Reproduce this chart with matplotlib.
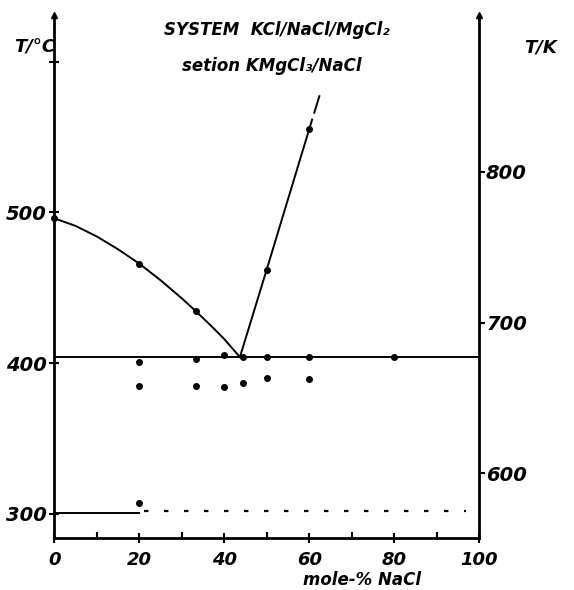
import matplotlib
matplotlib.use('Agg')
import matplotlib.pyplot as plt
from matplotlib.ticker import MultipleLocator

# ---- data ----
liq_left_c = [0, 5, 10, 15, 20, 25, 30, 33.3, 37, 40, 43.7]
liq_left_T = [496, 491, 484, 475.5, 466, 455, 443, 434.5, 424.5, 416, 404]
liq_left_pts_c = [0, 20, 33.3]
liq_left_pts_T = [496, 466, 434.5]

liq_right_c = [43.7, 50, 60, 60.7]
liq_right_T = [404, 462, 555, 561.5]
liq_right_pts_c = [50, 60]
liq_right_pts_T = [462, 555]
liq_right_dash_c = [61.2, 62.4]
liq_right_dash_T = [566, 577]

eut_c = [0, 100]
eut_T = [404, 404]
eut_pts_c = [20, 33.3, 40, 44.4, 50, 60, 80]
eut_pts_T = [401, 403, 405.5, 404, 404, 404, 404]

low_pts_c = [20, 33.3, 40, 44.4, 50, 60]
low_pts_T = [385, 385, 384.5, 386.5, 390, 389.5]

sol_c = [0, 20]
sol_T = [300.5, 300.5]
sol_dash_c = [21, 97]
sol_dash_T = [302, 302]
sol_pt_c = [20]
sol_pt_T = [307.5]

x_ticks = [0, 20, 40, 60, 80, 100]
y_ticks = [300, 400, 500, 600]
y_ticklabels = ['300', '400', '500', '']
k_ticks = [600, 700, 800]

FONT = dict(family='DejaVu Sans', style='italic', weight='bold')

fig = plt.figure(figsize=(5.74, 5.90), dpi=100)
ax = fig.add_axes([0.0946, 0.088, 0.74, 0.887])
ax.set_xlim(0, 100)
ax.set_ylim(284, 631)

lw = 1.4
ms = 4
k = 'black'
ax.plot(liq_left_c, liq_left_T, color=k, lw=lw)
ax.plot(liq_left_pts_c, liq_left_pts_T, 'o', color=k, ms=ms, clip_on=False)
ax.plot(liq_right_c, liq_right_T, color=k, lw=lw)
ax.plot(liq_right_pts_c, liq_right_pts_T, 'o', color=k, ms=ms)
ax.plot(liq_right_dash_c, liq_right_dash_T, color=k, lw=lw)
ax.plot(eut_c, eut_T, color=k, lw=lw)
ax.plot(eut_pts_c, eut_pts_T, 'o', color=k, ms=ms)
ax.plot(low_pts_c, low_pts_T, 'o', color=k, ms=ms)
ax.plot(sol_c, sol_T, color=k, lw=lw)
ax.plot(sol_dash_c, sol_dash_T, color=k, lw=1.6, linestyle=(0, (2, 7)))
ax.plot(sol_pt_c, sol_pt_T, 'o', color=k, ms=ms)

for s in ['top', 'right']:
    ax.spines[s].set_visible(False)
for s in ['left', 'bottom']:
    ax.spines[s].set_linewidth(2)

ax.set_xticks(x_ticks)
ax.set_xticklabels([str(v) for v in x_ticks], fontsize=13, **FONT)
ax.xaxis.set_minor_locator(MultipleLocator(10))
ax.tick_params(axis='x', which='major', direction='inout', length=7, width=1.5, pad=6)
ax.tick_params(axis='x', which='minor', direction='in', length=4, width=1.5)
ax.set_yticks(y_ticks)
ax.set_yticklabels(y_ticklabels, fontsize=14, **FONT)
ax.tick_params(axis='y', direction='inout', length=7, width=1.5, pad=2)

sec = ax.secondary_yaxis('right', functions=(lambda t: t + 273.15, lambda kk: kk - 273.15))
sec.set_yticks(k_ticks)
sec.set_yticklabels([str(v) for v in k_ticks], fontsize=14, **FONT)
sec.tick_params(direction='out', length=4, width=1.5, pad=1)
sec.spines['right'].set_linewidth(2)

# arrowheads at the top of both temperature axes
ax.plot([0, 100], [631, 631], '^', color=k, ms=5, clip_on=False)

fig.text(35 / 574, 1 - 47 / 590, 'T/°C', ha='center', va='center', fontsize=13, **FONT)
fig.text(541 / 574, 1 - 47 / 590, 'T/K', ha='center', va='center', fontsize=13, **FONT)
fig.text(277 / 574, 1 - 30 / 590, 'SYSTEM  KCl/NaCl/MgCl₂', ha='center', va='center', fontsize=12, **FONT)
fig.text(272 / 574, 1 - 66 / 590, 'setion KMgCl₃/NaCl', ha='center', va='center', fontsize=12, **FONT)
fig.text(362 / 574, 1 - 580 / 590, 'mole-% NaCl', ha='center', va='center', fontsize=12, **FONT)

fig.savefig('out.png', dpi=100)
